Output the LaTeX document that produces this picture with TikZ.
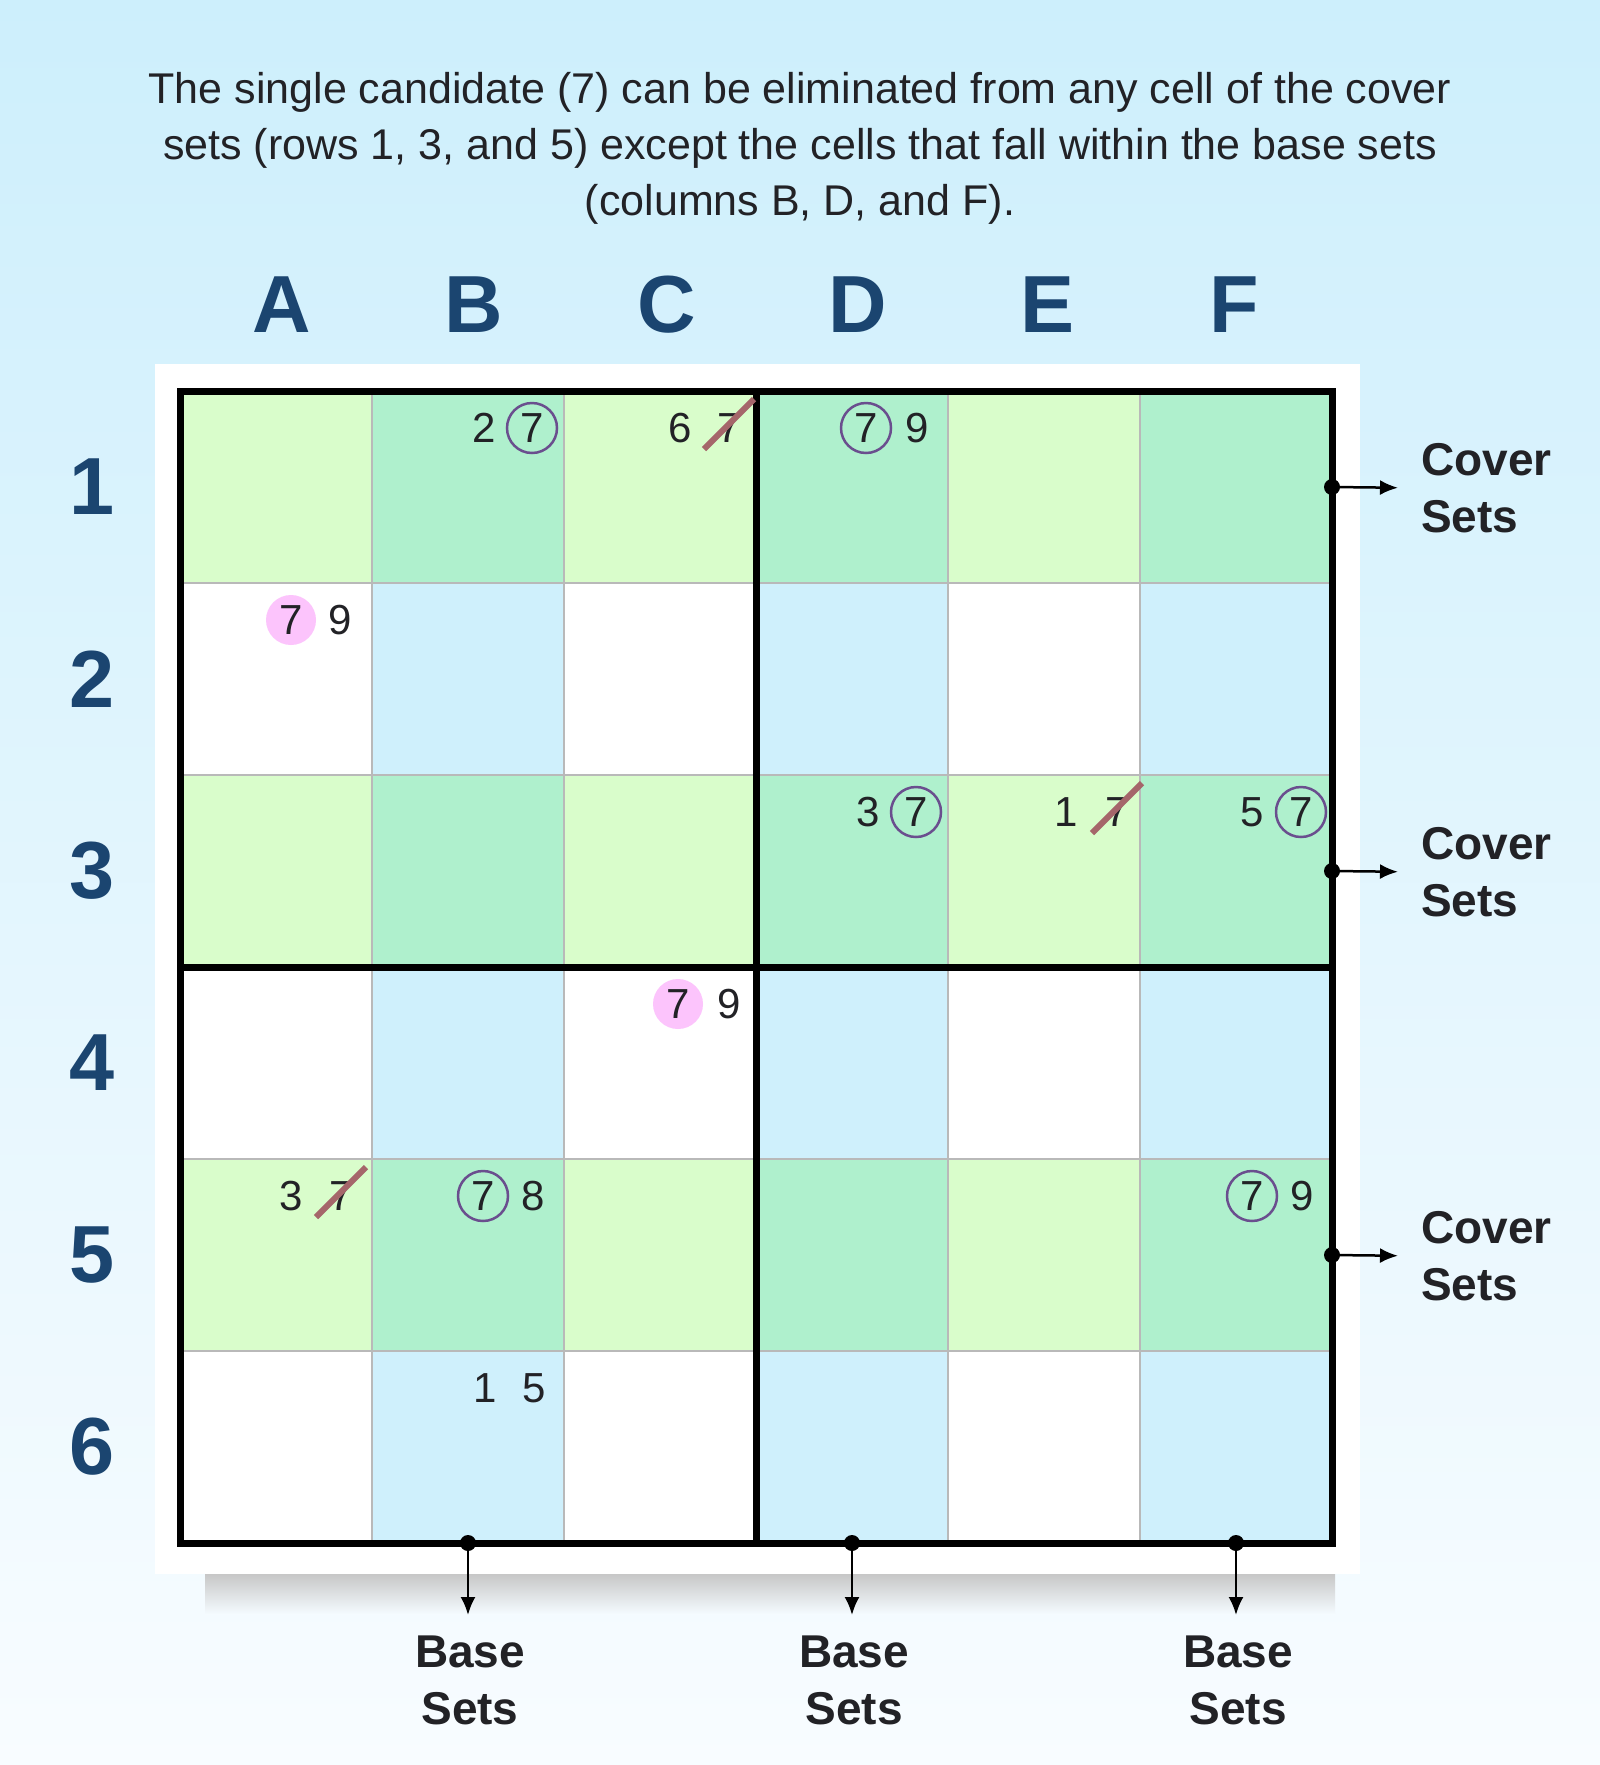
\documentclass[tikz,border=0pt]{standalone}
\usepackage{fontspec}
\setmainfont{Liberation Sans}
\usepackage{xcolor}
\usepackage{tikz}
\definecolor{bgtop}{HTML}{CDEFFC}
\definecolor{bgbot}{HTML}{F8FCFF}
\definecolor{covergreen}{HTML}{D9FDCB}
\definecolor{basemint}{HTML}{AFF0CD}
\definecolor{baseblue}{HTML}{CFF0FC}
\definecolor{gridgray}{HTML}{B9B9B9}
\definecolor{labelblue}{HTML}{1B4570}
\definecolor{ringpurple}{HTML}{6A4E8E}
\definecolor{hitpink}{HTML}{FCC4FC}
\definecolor{strikered}{HTML}{A5666A}
\definecolor{inkgray}{HTML}{222226}
\usetikzlibrary{arrows.meta, positioning, calc}

\begin{document}
\begin{tikzpicture}[
    x=1pt, y=-1pt,
    cand/.style={inner sep=0pt, text=inkgray, font=\fontsize{42}{50}\selectfont},
    ring/.style={cand, circle, draw=ringpurple, line width=2.5pt, minimum size=50pt},
    hit/.style={cand, circle, fill=hitpink, minimum size=50pt},
    strike/.style={strikered, line width=6pt},
    collabel/.style={text=labelblue, font=\fontsize{81}{90}\selectfont\bfseries},
    setlabel/.style={inner sep=0pt, text=inkgray, font=\fontsize{46}{57}\selectfont\bfseries},
    setarrow/.style={-{Latex[length=18pt,width=15pt]}, line width=2.5pt}
]
\useasboundingbox (0,0) rectangle (1600,1765);
\shade[top color=bgtop, bottom color=bgbot] (0,0) rectangle (1600,1765);

% title
\node[inner sep=0pt, anchor=north, align=center, text=inkgray, font=\fontsize{43}{56}\selectfont] (title) at (800,72)
  {The single candidate (7) can be eliminated from any cell of the cover\\
   sets (rows 1, 3, and 5) except the cells that fall within the base sets\\
   (columns B, D, and F).};

% board and shadow
\shade[top color=black!22, bottom color=bgbot!92!bgtop] (205,1574) rectangle (1335,1614);
\fill[white] (155,364) rectangle (1360,1574);

% cells
\foreach \r in {1,3,5}
  \fill[covergreen] (180,{391+192*(\r-1)}) rectangle (1332,{391+192*\r});
\foreach \c in {2,4,6}
  \fill[baseblue] ({180+192*(\c-1)},391) rectangle ({180+192*\c},1543);
\foreach \r in {1,3,5}
  \foreach \c in {2,4,6}
    \fill[basemint] ({180+192*(\c-1)},{391+192*(\r-1)}) rectangle ({180+192*\c},{391+192*\r});
\foreach \i in {1,...,5} {
  \draw[gridgray, line width=2.5pt] ({180+192*\i},391) -- ({180+192*\i},1543);
  \draw[gridgray, line width=2.5pt] (180,{391+192*\i}) -- (1332,{391+192*\i});
}
\draw[line width=7pt] (180,391) rectangle (1332,1543);
\draw[line width=7pt] (756,391) -- (756,1543);
\draw[line width=7pt] (180,967) -- (1332,967);

% labels
\foreach \l/\x in {A/282,B/474,C/667,D/858,E/1048,F/1234}
  \node[collabel] (col\l) at (\x,305) {\l};
\foreach \r in {1,...,6}
  \node[collabel] (row\r) at (92,{295+192*\r}) {\r};

% candidates
\node[cand] (b1a) at (484,428) {2};
\node[ring] (b1b) at (532,428) {7};
\node[cand] (c1a) at (680,428) {6};
\node[cand] (c1b) at (729,428) {7};
\node[ring] (d1a) at (866,428) {7};
\node[cand] (d1b) at (917,428) {9};
\node[hit]  (a2a) at (291,620) {7};
\node[cand] (a2b) at (340,620) {9};
\node[cand] (d3a) at (868,812) {3};
\node[ring] (d3b) at (916,812) {7};
\node[cand] (e3a) at (1066,812) {1};
\node[cand] (e3b) at (1117,812) {7};
\node[cand] (f3a) at (1252,812) {5};
\node[ring] (f3b) at (1301,812) {7};
\node[hit]  (c4a) at (678,1004) {7};
\node[cand] (c4b) at (729,1004) {9};
\node[cand] (a5a) at (291,1196) {3};
\node[cand] (a5b) at (341,1196) {7};
\node[ring] (b5a) at (483,1196) {7};
\node[cand] (b5b) at (533,1196) {8};
\node[ring] (f5a) at (1252,1196) {7};
\node[cand] (f5b) at (1302,1196) {9};
\node[cand] (b6a) at (485,1388) {1};
\node[cand] (b6b) at (534,1388) {5};

\draw[strike] ($(c1b)+(-25,21)$) -- ($(c1b)+(25,-29)$);
\draw[strike] ($(e3b)+(-25,21)$) -- ($(e3b)+(25,-29)$);
\draw[strike] ($(a5b)+(-25,21)$) -- ($(a5b)+(25,-29)$);

% cover sets
\foreach \r in {1,3,5} {
  \coordinate (cov\r) at (1332,{295+192*\r});
  \fill (cov\r) circle[radius=8];
  \node[setlabel, anchor=west, align=left] (cover\r) at (1421,{296+192*\r}) {Cover\\Sets};
  \draw[setarrow, shorten >=23pt] (cov\r) -- (cover\r.west);
}

% base sets
\foreach \l/\c in {B/2,D/4,F/6} {
  \coordinate (bas\l) at ({84+192*\c},1543);
  \fill (bas\l) circle[radius=8];
  \node[setlabel, anchor=north, align=center] (base\l) at ({86+192*\c},1636) {Base\\Sets};
  \draw[setarrow, shorten >=21pt] (bas\l) -- (bas\l |- base\l.north);
}

\end{tikzpicture}
\end{document}
